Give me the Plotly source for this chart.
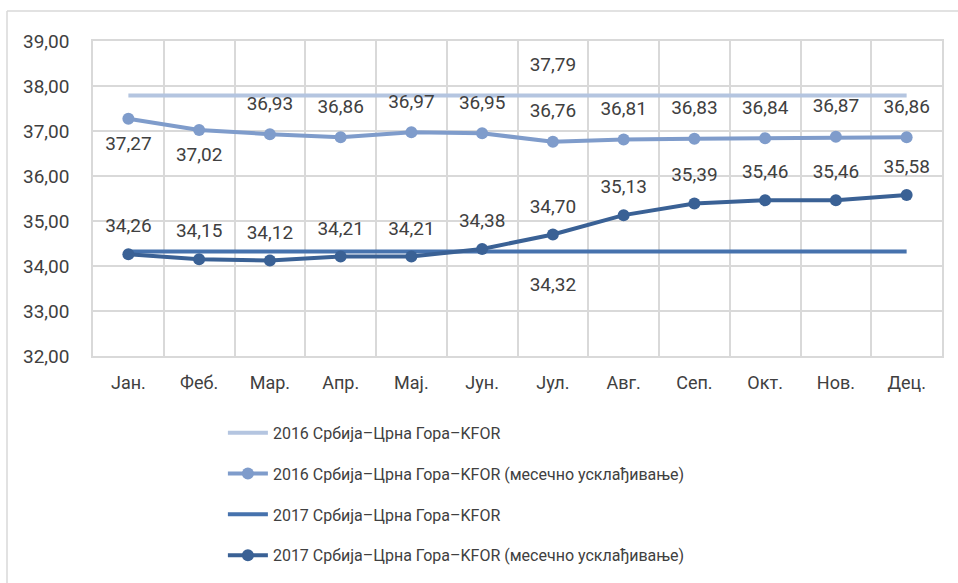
import plotly.graph_objects as go

months = ['Јан.', 'Феб.', 'Мар.', 'Апр.', 'Мај.', 'Јун.', 'Јул.', 'Авг.', 'Сеп.', 'Окт.', 'Нов.', 'Дец.']

flat_2016 = [37.79] * 12
monthly_2016 = [37.27, 37.02, 36.93, 36.86, 36.97, 36.95, 36.76, 36.81, 36.83, 36.84, 36.87, 36.86]
flat_2017 = [34.32] * 12
monthly_2017 = [34.26, 34.15, 34.12, 34.21, 34.21, 34.38, 34.70, 35.13, 35.39, 35.46, 35.46, 35.58]

names = [
    '2016 Србија–Црна Гора–KFOR',
    '2016 Србија–Црна Гора–KFOR (месечно усклађивање)',
    '2017 Србија–Црна Гора–KFOR',
    '2017 Србија–Црна Гора–KFOR (месечно усклађивање)',
]
colors = ['#b4c5e0', '#7f9ccb', '#4672ad', '#3a6195']
label_month = 'Јул.'


def fmt(v):
    return f'{v:.2f}'.replace('.', ',')


txt_color = '#404040'
font_family = 'Roboto'
num_size = 19

fig = go.Figure()


def series(vals, idx, with_markers):
    return go.Scatter(
        x=months, y=vals, name=names[idx], legendgroup=str(idx),
        mode='lines+markers' if with_markers else 'lines',
        line=dict(color=colors[idx], width=4),
        marker=dict(size=12, color=colors[idx]),
    )


def labels(vals, text, pos, pad):
    # invisible markers only set how far the data labels sit from the points
    return go.Scatter(
        x=months, y=vals, mode='markers+text', showlegend=False, hoverinfo='skip',
        marker=dict(size=pad, color='rgba(0,0,0,0)', line=dict(width=0)),
        text=text, textposition=pos,
        textfont=dict(size=num_size, color=txt_color, family=font_family),
    )


fig.add_trace(series(flat_2016, 0, False))
fig.add_trace(series(monthly_2016, 1, True))
fig.add_trace(series(flat_2017, 2, False))
fig.add_trace(series(monthly_2017, 3, True))

only_jul = lambda vals: [fmt(v) if m == label_month else '' for m, v in zip(months, vals)]
fig.add_trace(labels(flat_2016, only_jul(flat_2016), 'top center', 30))
fig.add_trace(labels(flat_2017, only_jul(flat_2017), 'bottom center', 38))
fig.add_trace(labels(monthly_2016, [fmt(v) for v in monthly_2016],
                     ['bottom center'] * 2 + ['top center'] * 10,
                     [25, 25] + [30] * 10))
fig.add_trace(labels(monthly_2017, [fmt(v) for v in monthly_2017], 'top center', 26))

grid = '#d9d9d9'
fig.update_layout(
    width=958, height=583,
    margin=dict(l=93, r=16, t=41, b=227, autoexpand=False),
    paper_bgcolor='white', plot_bgcolor='white',
    font=dict(family=font_family, size=16, color=txt_color),
    separators=',.',
    showlegend=True,
    legend=dict(
        x=0.153, y=-0.19, xanchor='left', yanchor='top',
        orientation='v', tracegroupgap=17,
        font=dict(size=16, color=txt_color),
        itemwidth=40,
    ),
    shapes=[
        dict(type='line', xref='paper', yref='paper', x0=-0.1013, x1=1.03, y0=1.0952, y1=1.0952,
             line=dict(color=grid, width=1.5)),
        dict(type='line', xref='paper', yref='paper', x0=-0.1013, x1=-0.1013, y0=1.0952, y1=-0.75,
             line=dict(color=grid, width=1.5)),
    ],
)
fig.update_xaxes(
    type='category', range=[-0.5, len(months) - 0.5], tickson='boundaries',
    showgrid=True, gridcolor=grid, gridwidth=1.5,
    showline=True, linecolor=grid, linewidth=1.5, mirror=True,
    ticks='', ticklabelstandoff=10, tickfont=dict(size=18, color=txt_color),
)
fig.update_yaxes(
    range=[32, 39], dtick=1, tickformat='.2f', showgrid=True, gridcolor=grid, gridwidth=1.5,
    showline=True, linecolor=grid, linewidth=1.5, mirror=True, zeroline=False,
    ticks='', ticklabelstandoff=18, tickfont=dict(size=num_size, color=txt_color),
)

fig.write_html(
    'out.html',
    config={'displayModeBar': False},
    post_script="document.body.style.margin='0';document.body.style.overflow='hidden';",
)
